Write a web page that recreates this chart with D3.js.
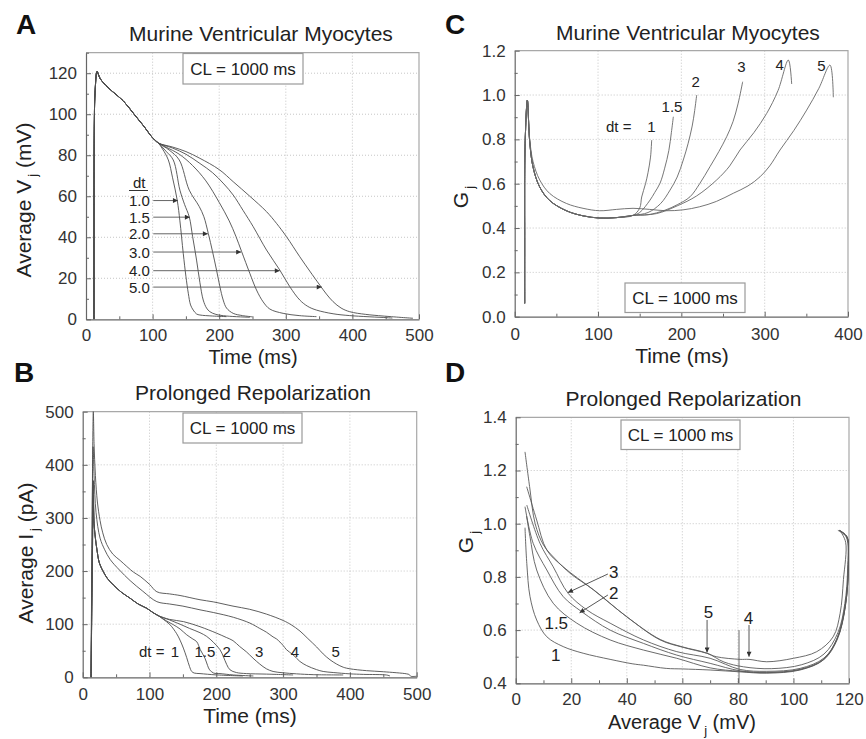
<!DOCTYPE html>
<html>
<head>
<meta charset="utf-8">
<script src="https://cdn.jsdelivr.net/npm/d3@7"></script>
<style>
  body { margin: 0; background: #fff; }
  svg { display: block; font-family: "Liberation Sans", Arial, sans-serif; }
</style>
</head>
<body>
<svg id="fig" width="866" height="739"></svg>
<script>
// ---------- Data ----------
const dtLabels = ["1", "1.5", "2", "3", "4", "5"];
const dtLabelsA = ["1.0", "1.5", "2.0", "3.0", "4.0", "5.0"];

// Panel A: average Vj (mV) against time (ms)
const vjUpstroke = [[12,0],[12,38],[12.5,95],[13.5,110],[16.5,120.8],[18,120],[21,117.5],[30,114],[40,111],[56,106.5],[71,100.5],[86,94.5],[100,88.5],[108.5,86]];
const vjDt1   = [[115,83],[123.6,77.7],[130,69],[137,58],[141,48],[146,32.2],[150,21],[153.6,12.7],[157,7],[161,4.5],[166,2.6],[171,2.1],[190,1.6],[211,1.3]];
const vjDt1_5 = [[120,82],[131,77.7],[141,63],[148,56],[155,50],[160,40.5],[166,28.9],[171,18],[176,9.4],[181,5.5],[186,3.7],[195,2.4],[211,1.6],[246,1.0]];
const vjDt2   = [[125,82.5],[140,77.7],[155,63],[170,55],[177,50],[183.6,41.9],[190,33],[196,24],[201,16],[206,9.4],[211,5.5],[221,2.9],[235,1.8],[250,1.2]];
const vjDt3   = [[120,84],[140,80.5],[160,75],[180,67.5],[200,57],[215,48],[225,40.5],[233.7,33],[246,22.4],[256,14.3],[266,8.5],[276,5],[296,2.9],[320,1.8],[346,1.3]];
const vjDt4   = [[130,83.5],[150,80.5],[171,76],[190,71.5],[207,66],[221,60.6],[236,53],[251,45.2],[271,33.8],[291,24],[306,15.9],[321,9.4],[333,6.3],[346,4.5],[371,2.7],[396,1.8],[451,0.8],[460,0.6]];
const vjDt5   = [[130,84],[150,81.8],[171,78.5],[200,73],[221,67.1],[246,60],[271,52.5],[286,46.8],[301,40.3],[321,30.5],[336,23.5],[351,16.7],[361,12.3],[371,8.6],[383,5.5],[396,3.7],[420,2.4],[446,1.6],[491,0.5]];
const vjArrowTips = [[138,57.9],[156,49.8],[183,41.7],[233,32.8],[291,23.7],[354,15.7]];

// Panel B: average Ij (pA) against time (ms)
const ijSpikeLow1 = [[12.5,0],[14.5,220],[15.8,337]];
const ijSpikeLow2 = [[12.5,0],[14.5,240],[15.8,370]];
const ijDecayLow  = [[17,290],[19,262],[21,243],[25,215],[30.8,199],[37,186],[45.8,174],[58,160],[70.8,149],[83,138],[95.8,130],[105,122],[113.2,116]];
const ijDt1   = [[120.8,109],[130.7,99],[140.7,82],[145.7,70],[150.7,55],[155.7,37],[160,20],[163.2,11],[167,8],[175.6,7],[200,4.5],[240,2.5]];
const ijDt1_5 = [[125.7,106],[135.7,99],[145.7,91],[155.7,80],[165,72],[170.7,67],[176,52],[183,36],[187,22],[190,14],[196,8],[205.5,7],[225.5,4.4],[255.5,2.5]];
const ijDt2   = [[130,108],[145.7,100],[160,92],[175.6,84],[185.6,77],[195.6,66],[205.5,52],[210.6,39],[215.6,24],[220.6,14],[230,9],[245,7],[275,6],[315,4.4]];
const ijDt3   = [[130,109],[151,104.8],[175.6,95.3],[200.6,83],[215,75],[225,69],[235,58],[245,48],[255,36],[265,25],[275,16],[285,11],[300,8.5],[320,6.5],[345,5],[390,4.4]];
const ijDt4   = [[12.5,0],[14,250],[15.6,434],[17,380],[20,310],[26,262],[33,240],[41,222],[55,202],[71,182],[90,162],[111,142.4],[130,138],[150,134],[175.6,127],[195.5,122],[225.5,113],[250.4,102],[265,92],[275,85],[285,76],[290.4,72],[300,60],[305,52],[315.3,42],[325,30],[335.3,22],[350,14.5],[360,11],[375,9],[400,6.5],[420,5.5],[455,4.3],[460,2.5]];
const ijDt5   = [[12.5,0],[14,280],[15.9,500],[17,440],[19,380],[22,330],[26,295],[30,272],[36,250],[45,232],[56,220],[76,198],[86,190],[100,175],[111,161],[130,157],[145.7,154],[175.6,146],[195.5,142],[225,134],[250,128],[275,119],[300,107],[312,99],[325.3,87],[337,73],[350.3,57],[360,44],[370.2,33],[380,25],[390,19],[400,16],[425,12.5],[450,10.5],[485,6.5],[489,5],[491,2],[500,2]];
const ijLabelPos = [[138.2,48],[183,48],[215.6,48],[264,48],[317.8,48],[378.7,48]];

// Panel C: Gj against time (ms)
const gjUpstroke = [[12,0.06],[12,0.3],[12.5,0.78],[15.2,0.977]];
const gjDecayLow = [[18,0.79],[22,0.675],[30,0.585],[42,0.524],[62,0.478],[82,0.455],[102,0.445],[122,0.447],[142,0.457]];
const gjDt1   = [[150,0.49],[152.4,0.54],[157,0.6],[160,0.65],[163,0.72],[164.4,0.797]];
const gjDt1_5 = [[150,0.47],[162.4,0.526],[168,0.56],[174.4,0.602],[180,0.67],[185,0.75],[188,0.83],[190.4,0.902]];
const gjDt2   = [[160,0.47],[175,0.51],[186.4,0.571],[195,0.63],[202.3,0.707],[208,0.78],[213,0.86],[216,0.93],[218.4,1.0]];
const gjDt3   = [[160,0.46],[180,0.48],[195,0.505],[210.4,0.541],[222,0.6],[234.4,0.677],[245,0.745],[254.4,0.812],[262,0.88],[268,0.96],[273.6,1.06]];
const gjDt4   = [[170,0.465],[195,0.5],[218.4,0.545],[242.4,0.617],[258,0.68],[270.4,0.752],[287,0.83],[302.4,0.917],[316,1.02],[328.4,1.158],[332.4,1.05]];
const gjDt5   = [[18,0.8],[22,0.7],[30,0.617],[42,0.556],[62,0.511],[82,0.489],[102,0.478],[122,0.484],[142,0.489],[162,0.484],[182,0.478],[202,0.482],[222,0.496],[242,0.52],[262.4,0.557],[280,0.59],[294.4,0.631],[306,0.68],[318.4,0.752],[335,0.84],[350.4,0.932],[365,1.03],[378.4,1.135],[382.4,0.99]];
const gjLabelPos = [[164,0.857],[188.8,0.95],[217.2,1.06],[272,1.128],[318,1.14],[368,1.135]];

// Panel D: Gj against average Vj (mV), traced from depolarisation to rest
const loopDt1   = [[116.5,0.975],[119.2,0.95],[119.8,0.85],[118.6,0.69],[115.6,0.565],[110.8,0.488],[102.4,0.45],[90.4,0.438],[80.8,0.443],[70,0.45],[60,0.454],[54.2,0.456],[46,0.468],[42.2,0.473],[34,0.49],[24.3,0.513],[17.1,0.538],[11.2,0.575],[7.55,0.638],[5.15,0.726],[4,0.85],[3.35,0.985]];
const loopDt1_5 = [[116.5,0.975],[119.3,0.95],[119.8,0.85],[118.6,0.69],[115.6,0.565],[110.8,0.49],[102.4,0.452],[90.4,0.44],[80.8,0.445],[70,0.458],[58,0.494],[46,0.525],[34,0.563],[22,0.626],[13.5,0.701],[7.55,0.826],[5.15,0.951],[3.9,1.03]];
const loopDt2   = [[116.5,0.975],[119.3,0.95],[119.8,0.85],[118.7,0.69],[115.8,0.565],[111,0.49],[102.4,0.452],[90.4,0.441],[80.8,0.447],[70,0.475],[58,0.506],[46,0.55],[34,0.6],[23.8,0.669],[17.1,0.726],[11.2,0.826],[6.3,0.926],[3.35,1.064]];
const loopDt3   = [[116.5,0.975],[119.3,0.95],[119.8,0.85],[118.7,0.69],[115.8,0.57],[111,0.495],[102.4,0.456],[90.4,0.445],[80.8,0.452],[70,0.494],[58,0.519],[46,0.563],[34,0.626],[25.6,0.676],[18.9,0.738],[13.5,0.838],[8.75,0.926],[4,1.07]];
const loopDt4   = [[117,0.97],[118.8,0.93],[118,0.79],[116.8,0.663],[114.3,0.575],[108.4,0.519],[100,0.494],[90.4,0.481],[84,0.49],[80.8,0.49],[72.2,0.5],[68.8,0.513],[60.3,0.535],[52,0.563],[40,0.65],[28,0.751],[17.1,0.838],[11.2,0.901],[7.55,1.014],[4.5,1.12],[3.95,1.139]];
const loopDt5   = [[116,0.975],[119,0.95],[119.5,0.83],[118.5,0.7],[116,0.59],[111,0.51],[103,0.47],[92,0.455],[82,0.462],[75,0.48],[68.9,0.513],[60,0.537],[52,0.565],[40,0.65],[28,0.752],[20,0.81],[14,0.87],[10,0.92],[7,1.0],[5,1.14],[3.35,1.27]];
const loopStep  = [[80.4,0.4],[80.4,0.6]];
const loopLabels = [
  { text: "3",   pos: [35.3, 0.82] },
  { text: "2",   pos: [35.3, 0.741] },
  { text: "1.5", pos: [14.6, 0.626] },
  { text: "1",   pos: [14.4, 0.506] },
  { text: "5",   pos: [69.4, 0.668] },
  { text: "4",   pos: [83.8, 0.646] }
];
const loopArrows = [
  { from: [33.2, 0.811], to: [18.8, 0.741] },
  { from: [33.2, 0.732], to: [23.0, 0.665] },
  { from: [68.9, 0.638], to: [68.9, 0.516] },
  { from: [84.0, 0.619], to: [84.0, 0.500] }
];

// Axis tick values
const ticksTime500 = [0, 100, 200, 300, 400, 500];
const ticksTime400 = [0, 100, 200, 300, 400];
const ticksVj130   = [0, 20, 40, 60, 80, 100, 120];
const ticksIj      = [0, 100, 200, 300, 400, 500];
const ticksGjC     = [0, 0.2, 0.4, 0.6, 0.8, 1.0, 1.2];
const ticksVj120   = [0, 20, 40, 60, 80, 100, 120];
const ticksGjD     = [0.4, 0.6, 0.8, 1.0, 1.2, 1.4];

// ---------- Drawing ----------
const svg = d3.select("#fig");
const FONT = '"Liberation Sans", Arial, sans-serif';
const INK = "#222";
const CURVE = "#4d4d4d";

const defs = svg.append("defs");
defs.append("marker")
  .attr("id", "arrowHead")
  .attr("viewBox", "0 0 10 10")
  .attr("refX", 10).attr("refY", 5)
  .attr("markerWidth", 7).attr("markerHeight", 5)
  .attr("markerUnits", "userSpaceOnUse")
  .attr("orient", "auto")
  .append("path").attr("d", "M0,0L10,5L0,10z").attr("fill", "#333");

function richText(parent, x, y, parts, opts = {}) {
  const t = parent.append("text")
    .attr("x", x).attr("y", y)
    .attr("font-family", FONT)
    .attr("font-size", opts.size || 21)
    .attr("fill", INK)
    .attr("text-anchor", opts.anchor || "middle");
  if (opts.rotate) t.attr("transform", `rotate(${opts.rotate},${x},${y})`);
  parts.forEach(p => {
    const s = t.append("tspan").text(p.t);
    if (p.sub) s.attr("font-size", 13).attr("dy", 6).attr("dx", 3);
    if (p.after) s.attr("dy", -6);
  });
  return t;
}

function panel(cfg) {
  const g = svg.append("g");
  const x = d3.scaleLinear().domain(cfg.xDomain).range([cfg.left, cfg.right]);
  const y = d3.scaleLinear().domain(cfg.yDomain).range([cfg.bottom, cfg.top]);

  // dotted grid at major ticks
  const grid = g.append("g").attr("stroke", "#b8b8b8").attr("stroke-width", 0.8).attr("stroke-dasharray", "1,2");
  cfg.xTicks.filter(v => v > cfg.xDomain[0] && v < cfg.xDomain[1]).forEach(v => {
    grid.append("line").attr("x1", x(v)).attr("x2", x(v)).attr("y1", cfg.top).attr("y2", cfg.bottom);
  });
  cfg.yTicks.filter(v => v > cfg.yDomain[0] + 1e-9 && v < cfg.yDomain[1] - 1e-9).forEach(v => {
    grid.append("line").attr("y1", y(v)).attr("y2", y(v)).attr("x1", cfg.left).attr("x2", cfg.right);
  });

  // light frame on top and right
  g.append("path")
    .attr("d", `M${cfg.left},${cfg.top}H${cfg.right}V${cfg.bottom}`)
    .attr("fill", "none").attr("stroke", "#a8a8a8").attr("stroke-width", 1.2);

  // minor ticks
  const minorX = d3.range(cfg.xDomain[0], cfg.xDomain[1] + 1e-9, cfg.xMinor).filter(v => !cfg.xTicks.some(t => Math.abs(t - v) < 1e-9));
  const minorY = d3.range(cfg.yDomain[0], cfg.yDomain[1] + 1e-9, cfg.yMinor).filter(v => !cfg.yTicks.some(t => Math.abs(t - v) < 1e-9));
  const mx = g.append("g").attr("transform", `translate(0,${cfg.bottom})`)
    .call(d3.axisBottom(x).tickValues(minorX).tickSize(-3).tickFormat(""));
  const my = g.append("g").attr("transform", `translate(${cfg.left},0)`)
    .call(d3.axisLeft(y).tickValues(minorY).tickSize(-3).tickFormat(""));
  [mx, my].forEach(a => { a.select(".domain").remove(); a.selectAll("line").attr("stroke", "#666"); });

  // major axes
  const ax = g.append("g").attr("transform", `translate(0,${cfg.bottom})`)
    .call(d3.axisBottom(x).tickValues(cfg.xTicks).tickSize(-5).tickSizeOuter(0).tickPadding(cfg.xPad || 11).tickFormat(cfg.xFormat));
  const ay = g.append("g").attr("transform", `translate(${cfg.left},0)`)
    .call(d3.axisLeft(y).tickValues(cfg.yTicks).tickSize(-5).tickSizeOuter(0).tickPadding(9).tickFormat(cfg.yFormat));
  [ax, ay].forEach(a => {
    a.attr("font-family", FONT).attr("font-size", 17);
    a.select(".domain").attr("stroke", "#666").attr("stroke-width", 1.2);
    a.selectAll(".tick line").attr("stroke", "#666");
    a.selectAll("text").attr("fill", "#333");
  });

  // data curves
  const clipId = "clip" + cfg.name;
  defs.append("clipPath").attr("id", clipId).append("rect")
    .attr("x", cfg.left).attr("y", cfg.top - 2).attr("width", cfg.right - cfg.left).attr("height", cfg.bottom - cfg.top + 2);
  const line = d3.line().x(d => x(d[0])).y(d => y(d[1])).curve(d3.curveCatmullRom.alpha(0.5));
  const curves = g.append("g").attr("clip-path", `url(#${clipId})`);
  cfg.series.forEach(s => {
    curves.append("path").datum(s)
      .attr("d", line)
      .attr("fill", "none")
      .attr("stroke", cfg.stroke || CURVE)
      .attr("stroke-width", cfg.strokeWidth || 0.9)
      .attr("stroke-linejoin", "round");
  });

  // CL box
  const b = cfg.box;
  g.append("rect").attr("x", b[0]).attr("y", b[1]).attr("width", b[2]).attr("height", b[3])
    .attr("fill", "#fff").attr("stroke", "#9a9a9a").attr("stroke-width", 1.2);
  g.append("text").attr("x", b[0] + b[2] / 2).attr("y", b[1] + b[3] / 2 + 6)
    .attr("text-anchor", "middle").attr("font-family", FONT).attr("font-size", 17).attr("fill", INK)
    .text("CL = 1000 ms");

  // titles and letters
  g.append("text").attr("x", cfg.titlePos[0]).attr("y", cfg.titlePos[1])
    .attr("text-anchor", "middle").attr("font-family", FONT).attr("font-size", 21).attr("fill", INK)
    .text(cfg.title);
  g.append("text").attr("x", cfg.letterPos[0]).attr("y", cfg.letterPos[1])
    .attr("font-family", FONT).attr("font-size", 28).attr("font-weight", "bold").attr("fill", "#111")
    .text(cfg.name);
  richText(g, cfg.xTitlePos[0], cfg.xTitlePos[1], cfg.xTitle, { size: cfg.xTitleSize || 21 });
  richText(g, cfg.yTitlePos[0], cfg.yTitlePos[1], cfg.yTitle, { rotate: -90 });

  return { g, x, y };
}

const fmtInt = d3.format("d");
const fmt1 = d3.format(".1f");

// ----- Panel A -----
const pA = panel({
  name: "A", left: 86, right: 419, top: 52.7, bottom: 319.3,
  xDomain: [0, 500], yDomain: [0, 130], xTicks: ticksTime500, yTicks: ticksVj130,
  xMinor: 50, yMinor: 10, xFormat: fmtInt, yFormat: fmtInt, xPad: 10,
  series: [vjDt1, vjDt1_5, vjDt2, vjDt3, vjDt4, vjDt5].map(s => vjUpstroke.concat(s)),
  box: [183, 53.5, 120, 30.5],
  title: "Murine Ventricular Myocytes", titlePos: [261, 41], letterPos: [16, 34],
  xTitle: [{ t: "Time (ms)" }], xTitlePos: [253, 364], xTitleSize: 20,
  yTitle: [{ t: "Average V" }, { t: "j", sub: true }, { t: " (mV)", after: true }], yTitlePos: [31, 200]
});
{
  const { g, x, y } = pA;
  const startT = 101;
  g.append("text").attr("x", 133).attr("y", 188).attr("font-family", FONT).attr("font-size", 15).attr("fill", INK).text("dt");
  g.append("line").attr("x1", 129).attr("x2", 148).attr("y1", 190.5).attr("y2", 190.5).attr("stroke", "#333").attr("stroke-width", 1);
  vjArrowTips.forEach((tip, i) => {
    g.append("text").attr("x", 129).attr("y", y(tip[1]) + 5.5)
      .attr("font-family", FONT).attr("font-size", 15).attr("fill", INK).text(dtLabelsA[i]);
    g.append("line").attr("x1", x(startT)).attr("x2", x(tip[0])).attr("y1", y(tip[1])).attr("y2", y(tip[1]))
      .attr("stroke", "#555").attr("stroke-width", 0.9).attr("marker-end", "url(#arrowHead)");
  });
}

// ----- Panel B -----
const pB = panel({
  name: "B", left: 82.7, right: 416.7, top: 411.7, bottom: 677.3,
  xDomain: [0, 500], yDomain: [0, 500], xTicks: ticksTime500, yTicks: ticksIj,
  xMinor: 50, yMinor: 50, xFormat: fmtInt, yFormat: fmtInt,
  series: [
    ijSpikeLow1.concat(ijDecayLow, ijDt1),
    ijSpikeLow1.concat(ijDecayLow, ijDt1_5),
    ijSpikeLow2.concat(ijDecayLow, ijDt2),
    ijSpikeLow2.concat(ijDecayLow, ijDt3),
    ijDt4, ijDt5
  ],
  box: [183, 413, 119, 30],
  title: "Prolonged Repolarization", titlePos: [253, 400], letterPos: [14, 382],
  xTitle: [{ t: "Time (ms)" }], xTitlePos: [250, 723],
  yTitle: [{ t: "Average I" }, { t: "j", sub: true }, { t: " (pA)", after: true }], yTitlePos: [33, 553]
});
{
  const { g, x, y } = pB;
  g.append("text").attr("x", 139).attr("y", y(48) + 5.5).attr("font-family", FONT).attr("font-size", 15).attr("fill", INK).text("dt =");
  ijLabelPos.forEach((p, i) => {
    g.append("text").attr("x", x(p[0])).attr("y", y(p[1]) + 5.5).attr("text-anchor", "middle")
      .attr("font-family", FONT).attr("font-size", 15).attr("fill", INK).text(dtLabels[i]);
  });
}

// ----- Panel C -----
const pC = panel({
  name: "C", left: 514.7, right: 848, top: 50.7, bottom: 316.7,
  xDomain: [0, 400], yDomain: [0, 1.2], xTicks: ticksTime400, yTicks: ticksGjC,
  xMinor: 50, yMinor: 0.1, xFormat: fmtInt, yFormat: fmt1,
  series: [
    gjUpstroke.concat(gjDecayLow, gjDt1),
    gjUpstroke.concat(gjDecayLow, gjDt1_5),
    gjUpstroke.concat(gjDecayLow, gjDt2),
    gjUpstroke.concat(gjDecayLow, gjDt3),
    gjUpstroke.concat(gjDecayLow, gjDt4),
    gjUpstroke.concat(gjDt5)
  ],
  stroke: "#666",
  box: [625, 283, 120, 29.5],
  title: "Murine Ventricular Myocytes", titlePos: [688, 40], letterPos: [445, 34],
  xTitle: [{ t: "Time (ms)" }], xTitlePos: [682, 363],
  yTitle: [{ t: "G" }, { t: "j", sub: true }], yTitlePos: [468, 197]
});
{
  const { g, x, y } = pC;
  g.append("text").attr("x", 606).attr("y", y(0.857) + 5.5).attr("font-family", FONT).attr("font-size", 15).attr("fill", INK).text("dt =");
  gjLabelPos.forEach((p, i) => {
    g.append("text").attr("x", x(p[0])).attr("y", y(p[1]) + 5.5).attr("text-anchor", "middle")
      .attr("font-family", FONT).attr("font-size", 15).attr("fill", INK).text(dtLabels[i]);
  });
}

// ----- Panel D -----
const pD = panel({
  name: "D", left: 515.7, right: 849, top: 417.3, bottom: 683.3,
  xDomain: [0, 120], yDomain: [0.4, 1.4], xTicks: ticksVj120, yTicks: ticksGjD,
  xMinor: 10, yMinor: 0.1, xFormat: fmtInt, yFormat: fmt1, xPad: 10,
  series: [loopDt1, loopDt1_5, loopDt2, loopDt3, loopDt4, loopDt5, loopStep],
  stroke: "#5a5a5a",
  box: [621, 420, 119, 29.5],
  title: "Prolonged Repolarization", titlePos: [683.5, 406], letterPos: [445, 382],
  xTitle: [{ t: "Average V" }, { t: "j", sub: true }, { t: " (mV)", after: true }], xTitlePos: [682, 729], xTitleSize: 20,
  yTitle: [{ t: "G" }, { t: "j", sub: true }], yTitlePos: [473, 542]
});
{
  const { g, x, y } = pD;
  loopLabels.forEach(l => {
    g.append("text").attr("x", x(l.pos[0])).attr("y", y(l.pos[1]) + 6).attr("text-anchor", "middle")
      .attr("font-family", FONT).attr("font-size", 17).attr("fill", INK).text(l.text);
  });
  loopArrows.forEach(a => {
    g.append("line").attr("x1", x(a.from[0])).attr("y1", y(a.from[1])).attr("x2", x(a.to[0])).attr("y2", y(a.to[1]))
      .attr("stroke", "#444").attr("stroke-width", 0.9).attr("marker-end", "url(#arrowHead)");
  });
}
</script>
</body>
</html>
